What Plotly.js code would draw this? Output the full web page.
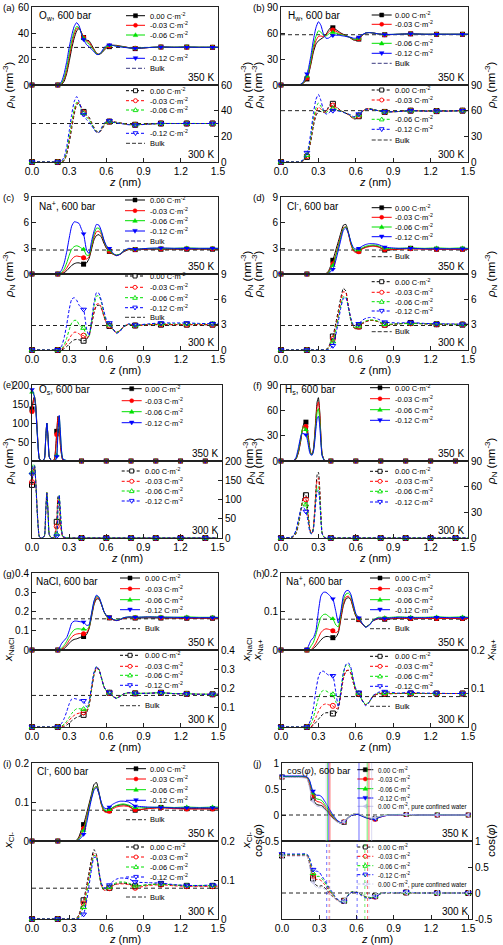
<!DOCTYPE html>
<html><head><meta charset="utf-8">
<script src="https://cdn.plot.ly/plotly-3.0.1.min.js"></script>
<style>html,body{margin:0;padding:0;background:#fff}#chart{width:503px;height:945px}</style>
</head><body><div id="chart"></div>
<script>
// ================= DATA =================
const chargeLabels = ['0.00','-0.03','-0.06','-0.12'];
const pureLabel = '0.00 C·m<sup>-2</sup>, pure confined water';
const xTickVals = [0,0.3,0.6,0.9,1.2,1.5];
const xTickText = ['0.0','0.3','0.6','0.9','1.2','1.5'];

// shared z grid (nm) for panels a,b,c,d,g,h,i
const zG = [0,0.1,0.14,0.16,0.18,0.208,0.22,0.24,0.26,0.28, 0.30,0.32,0.34,0.36,0.38,0.40,0.416,0.44,0.46,0.48, 0.50,0.52,0.54,0.56,0.58,0.60,0.624,0.65,0.68,0.71, 0.74,0.78,0.832,0.94,1.04,1.15,1.248,1.35,1.456,1.5];
const markZ_G = [0,0.208,0.416,0.624,0.832,1.04,1.248,1.456];

// (a) O_w
const aOw350_000 = [0,0,0,0,0,0,0,0.5,3,9, 18,28,36,41.5,43.5,40,36.5,34.5,34,31, 27.5,24.5,23.5,24.5,26.5,28.5,29.5,30.5,30.5,30, 29.5,28.8,28,28.8,29.2,29,29.2,29,29,29];
const aOw350_003 = [0,0,0,0,0,0,0,1,4.5,11, 21,31,39,43.5,44,40,36.5,34,33,30, 27,24.3,23.5,24.8,27,29,30,30.5,30.3,29.8, 29.3,28.7,28.2,28.8,29.2,29,29.1,29,29,29];
const aOw350_006 = [0,0,0,0,0,0,0.2,1.5,6,13.5, 24,34,41,45,44,39.5,36,33,31.5,29, 26.5,24,23.5,25,27.5,29.5,30.3,30.5,30,29.6, 29.2,28.6,28.3,28.9,29.2,29.1,29.2,29.1,29.1,29.1];
const aOw350_012 = [0,0,0,0,0,0,0.5,3,9,18, 29,38,45,48,45.5,39,35,31,29.5,27.5, 25.5,23.5,23.5,25.5,28.5,30.5,31,30.5,29.8,29.3, 29,28.5,28.2,28.8,29.2,29,29.1,29,29,29];
const aOw300_000 = [0,0,0,0,0,0,0,0,1,6, 15,26,37,44.5,46,42,39,36.5,35,31, 27,24,23,25,28,31,31.5,31.5,31,30.5, 30,29.3,29,29.5,30,30,30,30,30,30];
const aOw300_003 = [0,0,0,0,0,0,0,0.2,1.5,7.5, 17,28.5,39,45.5,46,41.5,38.5,36,34,30.5, 26.5,23.5,23,25.5,28.5,31,31.5,31.3,30.8,30.3, 29.8,29.2,29,29.6,30,30,30,30,30,30];
const aOw300_006 = [0,0,0,0,0,0,0,0.3,2,9, 19,31,41,46.5,45.5,40.5,38,35,33,30, 26,23.5,23.2,26,29,31.3,31.5,31,30.6,30.2, 29.8,29.2,29,29.6,30,30,30.1,30,30,30];
const aOw300_012 = [0,0,0,0,0,0,0.2,1,4,12, 24,37,47,51,47,40.5,37,33,31,28.5, 25.5,23,23,26.5,30,32,32,31,30.5,30, 29.6,29,28.8,29.5,30,30,30,30,30,30];
const aOwBulk = [28.9, 30];

// (b) H_w
const bHw350_000 = [0,0,0,0.5,2,7,12,24,38,47, 51,53,55,58,63,66.5,66,64,62,60, 58.5,57,56,54,52,51.5,53,57,60,60.5, 60,59,58,58.5,59,58.5,58.5,58.5,58.5,58.5];
const bHw350_003 = [0,0,0,0.6,2.5,8,13,26,41,51, 56,56.5,56,57.5,61,63.5,63.5,62,60.5,59, 58,56.5,55.5,54,52.5,52,53.5,57,60,60.5, 60,59,58,58.5,59,58.5,58.5,58.5,58.5,58.5];
const bHw350_006 = [0,0,0,0.8,3,10,15,29,45,56, 62.5,61,57.5,56.5,58.5,60.5,60.5,60,59,58, 57.5,56.5,55.5,54.5,53,52.5,54,57.5,60,60.5, 60,59,58.2,58.6,59,58.6,58.6,58.6,58.6,58.6];
const bHw350_012 = [0,0,0,1,4,13,19,34,52,66, 73,69,59,54,54,56,57,57.5,57.5,57, 56.5,56,55.5,55,54,54,55.5,58,60,60.5, 60,59,58.3,58.6,59,58.6,58.6,58.6,58.6,58.6];
const bHw300_000 = [0,0,0,0.3,1.5,6,11,25,42,54, 59,59,58,59,64,68,68,65,62.5,60, 58.5,57,55.5,53,50.5,50.5,53.5,58.5,62,62.5, 61.5,60,58.5,59,60,59.5,59.5,59.5,60,60];
const bHw300_003 = [0,0,0,0.4,2,7,12,27,45,58, 64,62,58.5,58.5,62.5,66,66,64,62,60, 58.5,57,55.5,53.5,51,51,54,58.5,62,62, 61,60,58.5,59,60,59.5,59.5,59.5,60,60];
const bHw300_006 = [0,0,0,0.5,2.5,8,14,30,50,63, 69,65,59,57.5,60,62.5,62.5,62,60.5,59.5, 58.5,57,56,54,52,52,55,58.5,61.5,62, 61,60,58.6,59,60,59.5,59.6,59.5,60,60];
const bHw300_012 = [0,0,0,0.8,3,11,17,35,57,73, 79,72,61,56,57,59.5,60,60,59.5,59, 58,57,56,55,53,53.5,56,59.5,61.5,61.5, 61,60,58.6,59,60,59.5,59.6,59.5,60,60];
const bHwBulk = [58, 60];

// (c) Na+
const cNa350_000 = [0,0,0,0,0,0,0,0.05,0.15,0.4, 0.7,1.0,1.2,1.3,1.3,1.2,1.15,1.3,1.8,2.9, 4.0,4.5,4.6,4.3,3.6,3.0,2.65,2.35,2.2,2.3, 2.6,2.85,2.85,2.9,2.9,2.9,2.9,2.9,2.9,2.9];
const cNa350_003 = [0,0,0,0,0,0,0.02,0.1,0.3,0.7, 1.2,1.7,2.0,2.1,2.05,2.0,1.9,1.75,2.0,3.1, 4.3,4.95,5.0,4.6,3.8,3.1,2.7,2.35,2.15,2.3, 2.65,2.9,2.85,2.95,2.95,2.95,2.95,2.95,2.95,2.95];
const cNa350_006 = [0,0,0,0,0,0,0.05,0.2,0.6,1.3, 2.2,2.9,3.2,3.3,3.2,3.0,2.9,2.2,2.2,3.3, 4.6,5.35,5.35,4.8,3.9,3.2,2.8,2.4,2.2,2.35, 2.7,2.95,2.9,3.0,3.0,3.0,3.05,3.0,3.0,3.0];
const cNa350_012 = [0,0,0,0,0,0.02,0.1,0.5,1.3,2.6, 4.2,5.6,6.1,6.05,5.9,5.2,4.7,2.8,2.4,3.8, 5.0,5.8,5.7,5.0,4.0,3.3,3.0,2.5,2.15,2.3, 2.7,3.0,2.9,3.0,3.05,3.0,3.0,3.0,3.0,3.0];
const cNa300_000 = [0,0,0,0,0,0,0,0.03,0.15,0.4, 0.7,1.0,1.2,1.25,1.2,1.1,1.1,1.2,1.8,3.0, 4.4,5.25,5.3,4.9,4.0,3.2,2.85,2.5,2.1,2.3, 2.75,3.0,2.9,3.0,3.0,3.0,3.0,3.0,3.0,3.0];
const cNa300_003 = [0,0,0,0,0,0,0.02,0.1,0.35,0.8, 1.3,1.8,2.1,2.1,1.9,1.75,1.7,1.4,1.7,3.0, 4.5,5.4,5.5,5.0,4.0,3.2,2.9,2.5,2.05,2.3, 2.8,3.05,2.9,3.0,3.05,3.0,3.0,3.0,3.0,3.0];
const cNa300_006 = [0,0,0,0,0,0,0.05,0.2,0.6,1.4, 2.4,3.2,3.5,3.5,3.0,2.7,2.6,1.7,1.6,3.3, 5.2,6.4,6.4,5.6,4.4,3.4,3.0,2.5,2.05,2.3, 2.8,3.05,2.9,3.05,3.1,3.1,3.1,3.1,3.1,3.1];
const cNa300_012 = [0,0,0,0,0,0.03,0.1,0.5,1.5,3.0, 4.8,6.0,6.2,5.9,5.3,5.0,4.8,2.5,1.7,3.5, 5.6,6.8,6.7,5.8,4.6,3.6,3.2,2.6,1.95,2.2, 2.8,3.1,2.95,3.1,3.2,3.2,3.2,3.15,3.1,3.1];
const cNaBulk = [2.8, 2.9];

// (d) Cl-
const dCl350_000 = [0,0,0,0,0,0,0,0,0,0, 0,0,0,0.05,0.3,1.0,1.6,2.8,3.8,4.8, 5.7,5.8,4.9,3.6,2.8,2.6,2.7,2.95,3.15,3.25, 3.3,3.2,2.8,2.9,3.0,2.95,2.9,2.9,2.9,2.9];
const dCl350_003 = [0,0,0,0,0,0,0,0,0,0, 0,0,0,0.03,0.2,0.75,1.2,2.3,3.4,4.5, 5.4,5.5,4.7,3.5,2.7,2.5,2.6,2.9,3.1,3.2, 3.25,3.15,2.85,2.9,2.95,2.9,2.9,2.9,2.9,2.9];
const dCl350_006 = [0,0,0,0,0,0,0,0,0,0, 0,0,0,0.02,0.15,0.6,1.0,2.1,3.2,4.3, 5.3,5.5,4.8,3.7,2.9,2.7,2.8,3.05,3.25,3.35, 3.4,3.3,3.0,3.0,3.05,3.0,3.05,3.0,3.05,3.0];
const dCl350_012 = [0,0,0,0,0,0,0,0,0,0, 0,0,0,0.01,0.08,0.3,0.55,1.6,2.8,4.0, 5.1,5.4,4.8,3.8,3.1,2.9,3.0,3.25,3.45,3.55, 3.55,3.45,3.15,3.0,3.0,2.95,2.95,2.95,2.95,2.95];
const dCl300_000 = [0,0,0,0,0,0,0,0,0,0, 0,0,0,0.05,0.3,1.0,1.6,3.2,4.7,6.2, 7.3,7.0,5.2,3.5,2.7,2.55,2.8,3.1,3.35,3.5, 3.5,3.35,3.0,3.1,3.2,3.1,3.05,3.0,3.0,3.0];
const dCl300_003 = [0,0,0,0,0,0,0,0,0,0, 0,0,0,0.03,0.2,0.8,1.3,2.8,4.3,5.8, 6.9,6.8,5.2,3.6,2.7,2.5,2.75,3.1,3.35,3.5, 3.5,3.35,2.95,3.1,3.15,3.1,3.05,3.05,3.05,3.05];
const dCl300_006 = [0,0,0,0,0,0,0,0,0,0, 0,0,0,0.02,0.15,0.6,1.0,2.4,3.9,5.3, 6.3,6.3,5.0,3.6,2.8,2.6,2.85,3.2,3.45,3.55, 3.55,3.4,3.05,3.1,3.15,3.1,3.1,3.05,3.05,3.05];
const dCl300_012 = [0,0,0,0,0,0,0,0,0,0, 0,0,0,0.01,0.05,0.25,0.5,1.8,3.4,5.0, 6.1,6.2,5.1,3.8,3.0,2.85,3.1,3.5,3.75,3.85, 3.85,3.65,3.3,3.2,3.25,3.15,3.1,3.1,3.05,3.05];
const dClBulk = [2.8, 2.9];

// (e) O_s (own grid)
const zE = [0,0.01,0.02,0.03,0.045,0.06,0.08,0.1,0.11,0.12, 0.13,0.14,0.16,0.18,0.19,0.2,0.21,0.22,0.23,0.25, 0.3,0.4,0.6,0.8,1.0,1.2,1.4,1.5];
const markZ_E = [0,0.2,0.4,0.6,0.8,1.0,1.2,1.4];
const eOs350_000 = [137,160,170,148,65,5,0,6,55,100, 60,10,0,4,30,78,118,100,40,2, 0,0,0,0,0,0,0,0];
const eOs350_003 = [130,155,166,145,62,5,0,6,55,100, 60,10,0,3,25,70,116,102,42,2, 0,0,0,0,0,0,0,0];
const eOs350_006 = [181,178,170,142,60,5,0,6,55,100, 60,10,0,0.5,3,15,80,118,70,5, 0,0,0,0,0,0,0,0];
const eOs350_012 = [188,180,168,140,58,5,0,6,55,100, 60,10,0,0.5,2,12,78,120,72,5, 0,0,0,0,0,0,0,0];
const eOs300_000 = [138,172,185,150,55,3,0,5,62,118, 65,8,0,3,20,42,108,100,40,2, 0,0,0,0,0,0,0,0];
const eOs300_003 = [145,175,186,150,55,3,0,5,62,118, 65,8,0,2,15,30,105,102,42,2, 0,0,0,0,0,0,0,0];
const eOs300_006 = [170,192,190,148,52,3,0,5,62,118, 65,8,0,0.5,2,10,80,112,65,4, 0,0,0,0,0,0,0,0];
const eOs300_012 = [165,188,188,146,52,3,0,5,62,117, 65,8,0,0.5,2,5,75,112,68,4, 0,0,0,0,0,0,0,0];

// (f) H_s (own grid)
const zF = [0,0.08,0.1,0.12,0.14,0.16,0.17,0.18,0.19,0.2, 0.21,0.22,0.23,0.24,0.25,0.26,0.27,0.28,0.29,0.3, 0.31,0.32,0.33,0.35,0.4,0.6,0.8,1.0,1.2,1.4,1.5];
const markZ_F = [0,0.2,0.4,0.6,0.8,1.0,1.2,1.4];
const fHs350_000 = [0,0,0.2,2,10,25,36,43,46,46, 40,28,16,9,8,14,30,52,70,75, 60,30,8,0.5,0,0,0,0,0,0,0];
const fHs350_003 = [0,0,0.3,2.5,11,27,36,41,42,41, 35,25,15,9,8,13,28,48,65,70, 57,29,8,0.5,0,0,0,0,0,0,0];
const fHs350_006 = [0,0,0.4,3,13,29,37,40,40,37, 31,22,13,8,7.5,12,25,43,58,62, 50,26,7,0.5,0,0,0,0,0,0,0];
const fHs350_012 = [0,0,0.5,4,16,30,33,32.5,31.5,31, 26,18,10,7,7,11,22,38,50,53, 43,22,6,0.4,0,0,0,0,0,0,0];
const fHs300_000 = [0,0.3,1.5,5,15,32,42,49,52,50, 40,25,12,6,6,13,32,57,74,77, 60,28,6,0.3,0,0,0,0,0,0,0];
const fHs300_003 = [0,0.4,2,6,17,33,41,46,47,45, 37,23,11,6,6,12,30,52,68,70, 55,26,6,0.3,0,0,0,0,0,0,0];
const fHs300_006 = [0,0.5,2.5,7,19,34,40,42,42,39, 32,20,10,5.5,5.5,11,27,46,59,60, 48,23,5,0.3,0,0,0,0,0,0,0];
const fHs300_012 = [0,0.7,3,9,22,34,36,36,34,31, 25,16,8,5,5,10,25,43,54,56, 45,21,5,0.3,0,0,0,0,0,0,0];

// (g) NaCl mole fraction
const gNaCl350_000 = [0,0,0,0,0,0,0,0,0.008,0.02, 0.035,0.048,0.055,0.058,0.063,0.068,0.07,0.08,0.11,0.17, 0.235,0.265,0.265,0.236,0.2,0.176,0.167,0.158,0.153,0.158, 0.165,0.168,0.166,0.167,0.166,0.166,0.165,0.165,0.165,0.165];
const gNaCl350_003 = [0,0,0,0,0,0,0,0.005,0.015,0.03, 0.05,0.067,0.078,0.083,0.085,0.085,0.085,0.09,0.115,0.18, 0.24,0.272,0.268,0.238,0.2,0.178,0.168,0.158,0.153,0.158, 0.165,0.17,0.168,0.17,0.168,0.167,0.166,0.166,0.166,0.166];
const gNaCl350_006 = [0,0,0,0,0,0,0,0.01,0.025,0.045, 0.07,0.09,0.105,0.11,0.11,0.108,0.108,0.105,0.12,0.185, 0.25,0.28,0.272,0.24,0.2,0.178,0.17,0.16,0.155,0.16, 0.168,0.172,0.17,0.172,0.172,0.17,0.172,0.17,0.17,0.17];
const gNaCl350_012 = [0,0,0,0,0,0,0.01,0.035,0.05,0.065, 0.1,0.14,0.15,0.15,0.148,0.146,0.145,0.128,0.13,0.19, 0.255,0.285,0.275,0.24,0.2,0.18,0.172,0.16,0.153,0.158, 0.168,0.172,0.17,0.172,0.17,0.17,0.168,0.168,0.168,0.168];
const gNaCl300_000 = [0,0,0,0,0,0,0,0,0,0.01, 0.02,0.032,0.042,0.05,0.055,0.06,0.063,0.075,0.11,0.19, 0.27,0.305,0.297,0.255,0.21,0.185,0.178,0.16,0.15,0.16, 0.172,0.178,0.175,0.175,0.178,0.173,0.172,0.17,0.17,0.17];
const gNaCl300_003 = [0,0,0,0,0,0,0,0,0.008,0.02, 0.035,0.05,0.06,0.068,0.072,0.075,0.076,0.082,0.115,0.195, 0.275,0.308,0.298,0.255,0.21,0.186,0.178,0.16,0.15,0.16, 0.172,0.178,0.175,0.175,0.178,0.173,0.172,0.17,0.17,0.17];
const gNaCl300_006 = [0,0,0,0,0,0,0,0.005,0.015,0.03, 0.05,0.07,0.085,0.095,0.095,0.094,0.093,0.09,0.12,0.2, 0.28,0.312,0.3,0.255,0.21,0.188,0.178,0.16,0.15,0.16, 0.172,0.178,0.175,0.176,0.178,0.174,0.173,0.171,0.171,0.171];
const gNaCl300_012 = [0,0,0,0,0,0,0.005,0.02,0.045,0.08, 0.12,0.145,0.148,0.145,0.14,0.138,0.136,0.105,0.13,0.21, 0.285,0.315,0.3,0.255,0.21,0.19,0.18,0.16,0.148,0.158, 0.172,0.178,0.175,0.175,0.178,0.173,0.172,0.17,0.17,0.17];
const gNaClBulk = [0.162, 0.164];

// (h) Na+ mole fraction
const hNa350_000 = [0,0,0,0,0,0,0,0,0.004,0.01, 0.018,0.026,0.032,0.035,0.035,0.033,0.032,0.033,0.045,0.08, 0.115,0.132,0.136,0.13,0.108,0.088,0.079,0.068,0.06,0.066, 0.076,0.081,0.08,0.082,0.082,0.082,0.082,0.082,0.082,0.082];
const hNa350_003 = [0,0,0,0,0,0,0,0,0.008,0.018, 0.032,0.045,0.052,0.055,0.054,0.052,0.05,0.045,0.05,0.085, 0.12,0.137,0.14,0.133,0.11,0.09,0.08,0.068,0.06,0.066, 0.076,0.082,0.081,0.083,0.082,0.082,0.082,0.082,0.082,0.082];
const hNa350_006 = [0,0,0,0,0,0,0,0.01,0.02,0.04, 0.065,0.085,0.092,0.093,0.088,0.083,0.081,0.065,0.06,0.095, 0.13,0.145,0.148,0.14,0.115,0.092,0.082,0.07,0.06,0.066, 0.078,0.085,0.084,0.086,0.085,0.085,0.086,0.085,0.086,0.085];
const hNa350_012 = [0,0,0,0,0,0.002,0.01,0.025,0.032,0.05, 0.1,0.14,0.15,0.15,0.145,0.138,0.133,0.1,0.07,0.1, 0.14,0.153,0.155,0.145,0.12,0.095,0.084,0.07,0.059,0.065, 0.077,0.083,0.082,0.085,0.084,0.084,0.085,0.084,0.084,0.084];
const hNa300_000 = [0,0,0,0,0,0,0,0,0.005,0.012, 0.02,0.028,0.034,0.037,0.037,0.036,0.035,0.035,0.048,0.085, 0.125,0.145,0.147,0.14,0.115,0.094,0.086,0.07,0.058,0.066, 0.08,0.086,0.086,0.087,0.087,0.087,0.087,0.087,0.087,0.087];
const hNa300_003 = [0,0,0,0,0,0,0,0,0.01,0.025, 0.04,0.052,0.058,0.06,0.058,0.056,0.055,0.048,0.05,0.085, 0.125,0.145,0.148,0.14,0.115,0.095,0.087,0.07,0.058,0.066, 0.08,0.087,0.087,0.087,0.088,0.087,0.087,0.087,0.087,0.087];
const hNa300_006 = [0,0,0,0,0,0,0,0.008,0.025,0.05, 0.075,0.09,0.095,0.094,0.09,0.087,0.085,0.065,0.055,0.095, 0.14,0.16,0.162,0.15,0.122,0.098,0.088,0.07,0.058,0.067, 0.082,0.088,0.088,0.087,0.088,0.087,0.087,0.087,0.087,0.087];
const hNa300_012 = [0,0,0,0,0,0,0.005,0.02,0.05,0.095, 0.13,0.144,0.145,0.14,0.135,0.134,0.133,0.09,0.052,0.09, 0.14,0.162,0.167,0.155,0.125,0.1,0.09,0.07,0.055,0.065, 0.082,0.09,0.092,0.088,0.09,0.088,0.088,0.087,0.087,0.087];
const hNaBulk = [0.08, 0.079];

// (i) Cl- mole fraction
const iCl350_000 = [0,0,0,0,0,0,0,0,0,0, 0,0,0,0.002,0.012,0.03,0.042,0.07,0.095,0.12, 0.145,0.15,0.125,0.095,0.078,0.075,0.078,0.085,0.09,0.092, 0.093,0.09,0.079,0.084,0.086,0.084,0.083,0.083,0.083,0.083];
const iCl350_003 = [0,0,0,0,0,0,0,0,0,0, 0,0,0,0.001,0.008,0.022,0.032,0.06,0.088,0.113, 0.135,0.14,0.12,0.092,0.076,0.073,0.076,0.082,0.087,0.089, 0.09,0.088,0.08,0.083,0.085,0.083,0.082,0.082,0.082,0.082];
const iCl350_006 = [0,0,0,0,0,0,0,0,0,0, 0,0,0,0.001,0.006,0.017,0.027,0.055,0.085,0.112, 0.135,0.14,0.122,0.095,0.08,0.077,0.08,0.086,0.091,0.094, 0.095,0.092,0.085,0.086,0.087,0.086,0.087,0.086,0.087,0.087];
const iCl350_012 = [0,0,0,0,0,0,0,0,0,0, 0,0,0,0,0.003,0.01,0.017,0.045,0.078,0.108, 0.13,0.137,0.122,0.098,0.085,0.083,0.087,0.094,0.099,0.102, 0.102,0.1,0.09,0.087,0.086,0.085,0.085,0.085,0.085,0.085];
const iCl300_000 = [0,0,0,0,0,0,0,0,0,0, 0,0,0,0.002,0.012,0.035,0.048,0.085,0.12,0.155, 0.178,0.165,0.12,0.085,0.074,0.075,0.08,0.086,0.09,0.092, 0.092,0.09,0.084,0.088,0.09,0.087,0.085,0.085,0.085,0.085];
const iCl300_003 = [0,0,0,0,0,0,0,0,0,0, 0,0,0,0.001,0.008,0.028,0.04,0.075,0.11,0.145, 0.168,0.162,0.12,0.086,0.074,0.074,0.079,0.085,0.089,0.09, 0.09,0.088,0.08,0.086,0.088,0.085,0.084,0.084,0.084,0.084];
const iCl300_006 = [0,0,0,0,0,0,0,0,0,0, 0,0,0,0.001,0.005,0.02,0.03,0.065,0.1,0.138, 0.163,0.16,0.12,0.088,0.076,0.076,0.082,0.088,0.093,0.095, 0.095,0.092,0.085,0.088,0.09,0.087,0.086,0.086,0.086,0.086];
const iCl300_012 = [0,0,0,0,0,0,0,0,0,0, 0,0,0,0,0.002,0.008,0.012,0.045,0.085,0.128, 0.158,0.158,0.122,0.092,0.08,0.08,0.087,0.096,0.102,0.105, 0.105,0.103,0.095,0.093,0.092,0.088,0.086,0.086,0.087,0.087];
const iClBulk = [0.079, 0.079];

// (j) cos(phi) (own grid)
const zJ = [0,0.05,0.1,0.15,0.2,0.22,0.24,0.25,0.26,0.28, 0.3,0.32,0.34,0.36,0.38,0.4,0.42,0.44,0.46,0.48, 0.5,0.52,0.55,0.58,0.61,0.64,0.67,0.7,0.72,0.75, 0.78,0.82,0.87,0.93,1.0,1.1,1.18,1.25,1.35,1.43, 1.5];
const markZ_J = [0,0.25,0.5,0.75,1.0,1.25,1.5];
const jCos350_000 = [0.73,0.73,0.73,0.73,0.71,0.58,0.38,0.32,0.26,0.2, 0.19,0.18,0.14,0.08,0.02,-0.03,-0.08,-0.12,-0.15,-0.16, -0.14,-0.09,-0.02,0.01,0.02,-0.01,-0.04,-0.07,-0.08,-0.07, -0.04,-0.01,0,0,0.01,0,0,0,0,0, 0];
const jCos350_003 = [0.73,0.73,0.73,0.73,0.72,0.62,0.45,0.38,0.32,0.26, 0.25,0.23,0.18,0.11,0.05,-0.01,-0.07,-0.11,-0.14,-0.15, -0.13,-0.08,-0.01,0.02,0.02,-0.01,-0.04,-0.07,-0.08,-0.08, -0.05,-0.02,0,0,0.01,0,0,0,0,0, 0];
const jCos350_006 = [0.74,0.74,0.74,0.74,0.73,0.66,0.49,0.42,0.36,0.31, 0.3,0.28,0.22,0.15,0.08,0.01,-0.05,-0.1,-0.14,-0.15, -0.13,-0.08,-0.01,0.02,0.02,-0.01,-0.04,-0.06,-0.07,-0.07, -0.04,-0.01,0,0.01,0.01,0,0,0.01,0,0, 0];
const jCos350_012 = [0.75,0.75,0.75,0.75,0.74,0.68,0.52,0.46,0.41,0.38, 0.38,0.35,0.28,0.2,0.12,0.04,-0.03,-0.09,-0.13,-0.15, -0.13,-0.08,-0.02,0.01,0.01,-0.02,-0.05,-0.07,-0.08,-0.08, -0.05,-0.02,0,0,0.01,0,0,0,0,0, 0];
const jCos350_pure = [0.72,0.72,0.72,0.72,0.7,0.55,0.33,0.27,0.22,0.17, 0.16,0.15,0.11,0.06,0,-0.05,-0.09,-0.13,-0.15,-0.16, -0.13,-0.08,-0.01,0.02,0.03,0,-0.03,-0.05,-0.06,-0.05, -0.03,-0.01,0,0,0.01,0,0,0,0,0, 0];
const jCos300_000 = [0.72,0.72,0.72,0.72,0.72,0.58,0.36,0.28,0.2,0.14, 0.13,0.14,0.11,0.06,0,-0.05,-0.09,-0.13,-0.16,-0.17, -0.15,-0.09,0,0.02,0.01,-0.03,-0.07,-0.09,-0.09,-0.06, -0.03,0,0.01,0,0.01,0,0,0,0,0, 0];
const jCos300_003 = [0.73,0.73,0.73,0.73,0.73,0.62,0.42,0.33,0.28,0.26, 0.26,0.23,0.17,0.11,0.04,-0.02,-0.07,-0.12,-0.15,-0.17, -0.15,-0.08,0.01,0.03,0.01,-0.03,-0.07,-0.1,-0.1,-0.07, -0.03,0,0.01,0,0.01,0,0,0,0,0, 0];
const jCos300_006 = [0.74,0.74,0.74,0.74,0.74,0.66,0.47,0.38,0.34,0.32, 0.32,0.28,0.22,0.15,0.07,0,-0.06,-0.11,-0.15,-0.17, -0.15,-0.08,0.01,0.03,0.01,-0.03,-0.07,-0.09,-0.09,-0.06, -0.02,0,0.01,0,0.01,0,0,0,0,0, 0];
const jCos300_012 = [0.75,0.75,0.75,0.75,0.75,0.68,0.52,0.45,0.42,0.42, 0.4,0.33,0.26,0.18,0.1,0.03,-0.04,-0.1,-0.15,-0.18, -0.16,-0.09,0,0.02,0,-0.05,-0.09,-0.11,-0.1,-0.07, -0.03,0,0.01,0,0.02,0,0,0,0,0, 0];
const jCos300_pure = [0.71,0.71,0.71,0.71,0.71,0.55,0.3,0.22,0.15,0.1, 0.1,0.1,0.08,0.03,-0.02,-0.06,-0.1,-0.14,-0.17,-0.18, -0.15,-0.08,0.01,0.03,0.02,-0.02,-0.05,-0.07,-0.07,-0.05, -0.02,0,0.01,0,0.01,0,0,0,0,0, 0];
const jCosBulk = [0, 0];
// vertical reference lines in (j): position and series index (0 black,1 red,2 green,3 blue,4 pure)
const jVline350 = [0.356,0.366,0.376,0.386,0.62,0.686,0.70,0.722];
const jVline350Series = [4,2,3,1,3,2,1,4];
const jVline300 = [0.36,0.38,0.386,0.605,0.667,0.689,0.70];
const jVline300Series = [3,1,4,3,2,1,4];

// ================= STYLE / LAYOUT =================
const PW = 503, PH = 945;
const px = x => x / PW, py = y => 1 - y / PH;
const FONT = 'Liberation Sans, Arial, Helvetica, sans-serif';
const colors = ['#000000','#ff0000','#00e000','#0000ff','#c2c2ea'];
const symbols = ['square','circle','triangle-up','triangle-down','triangle-left'];
const rowTop = [7,197,385,573,763], rowMid = [85,274,461,650,841], rowBot = [162,350,538,727,919];
const RHO = '<i>ρ</i><sub>N</sub> (nm<sup>-3</sup>)';

const panels = [
 {tag:'(a)', name:'O<sub>w</sub>, 600 bar', z:zG, mz:markZ_G, s350:[aOw350_000,aOw350_003,aOw350_006,aOw350_012], s300:[aOw300_000,aOw300_003,aOw300_006,aOw300_012], bulk:aOwBulk, bulkLeg:true, bulkLegColor:'#3a3a80', yr:[0,60], yt:[0,20,40,60], ytitle:RHO, nm:[36.5,16], xl:32, xr:218, xmax:1.5, leg:{x1:126,x2:145,tx:148,t:[15.7,25.3,35,58.3,68.3],b:[90.7,100.7,110,133.3,143.3]}},
 {tag:'(b)', name:'H<sub>w</sub>, 600 bar', z:zG, mz:markZ_G, s350:[bHw350_000,bHw350_003,bHw350_006,bHw350_012], s300:[bHw300_000,bHw300_003,bHw300_006,bHw300_012], bulk:bHwBulk, bulkLeg:true, bulkLegColor:'#3a3a80', yr:[0,90], yt:[0,30,60,90], ytitle:RHO, nm:[286,16], xl:281, xr:468, xmax:1.5, leg:{x1:371.7,x2:391.7,tx:393,t:[15,24.3,43.3,53.3,63.3],b:[90,100,119.3,129.3,140]}},
 {tag:'(c)', name:'Na<sup>+</sup>, 600 bar', z:zG, mz:markZ_G, s350:[cNa350_000,cNa350_003,cNa350_006,cNa350_012], s300:[cNa300_000,cNa300_003,cNa300_006,cNa300_012], bulk:cNaBulk, bulkLeg:true, bulkLegColor:'#3a3a80', yr:[0,9], yt:[0,3,6,9], ytitle:RHO, nm:[36.5,206], xl:32, xr:218, xmax:1.5, leg:{x1:125,x2:145,tx:148,t:[200,210.7,220.7,231,241],b:[276,287.3,297.7,307.7,317.3]}},
 {tag:'(d)', name:'Cl<sup>-</sup>, 600 bar', z:zG, mz:markZ_G, s350:[dCl350_000,dCl350_003,dCl350_006,dCl350_012], s300:[dCl300_000,dCl300_003,dCl300_006,dCl300_012], bulk:dClBulk, bulkLeg:true, bulkLegColor:'#333333', yr:[0,9], yt:[0,3,6,9], ytitle:RHO, nm:[285,206], xl:281, xr:468, xmax:1.5, leg:{x1:371.7,x2:391.7,tx:393,t:[207.7,217.3,227,236.7,256.7],b:[281.7,292.3,301.7,311,331.7]}},
 {tag:'(e)', tagFont:9, name:'O<sub>s</sub>, 600 bar', z:zE, mz:markZ_E, s350:[eOs350_000,eOs350_003,eOs350_006,eOs350_012], s300:[eOs300_000,eOs300_003,eOs300_006,eOs300_012], bulk:null, bulkLeg:false, yr:[0,200], yt:[0,50,100,150,200], ytitle:RHO, nm:[37,390], xl:32, xr:222, xmax:1.535, leg:{x1:121.7,x2:141.7,tx:143.3,t:[388.7,400.7,411.7,422.7],b:[471,481.3,491,501]}},
 {tag:'(f)', name:'H<sub>s</sub>, 600 bar', z:zF, mz:markZ_F, s350:[fHs350_000,fHs350_003,fHs350_006,fHs350_012], s300:[fHs300_000,fHs300_003,fHs300_006,fHs300_012], bulk:null, bulkLeg:false, yr:[0,90], yt:[0,30,60,90], ytitle:RHO, nm:[282.5,389.5], xl:281, xr:468, xmax:1.5, leg:{x1:370,x2:390,tx:392.7,t:[387.7,398.7,409.7,420.3],b:[471.3,481.3,491.3,502]}},
 {tag:'(g)', name:'NaCl, 600 bar', z:zG, mz:markZ_G, s350:[gNaCl350_000,gNaCl350_003,gNaCl350_006,gNaCl350_012], s300:[gNaCl300_000,gNaCl300_003,gNaCl300_006,gNaCl300_012], bulk:gNaClBulk, bulkLeg:true, bulkLegColor:'#333333', yr:[0,0.4], yt:[0,0.1,0.2,0.3,0.4], ytitle:'<i>x</i><sub>NaCl</sub>', nm:[33.5,581], xl:32, xr:218, xmax:1.5, leg:{x1:120,x2:140,tx:143.3,t:[578,588.7,599.7,609.7,628.7],b:[655.3,666.3,675.3,685.3,705.7]}},
 {tag:'(h)', name:'Na<sup>+</sup>, 600 bar', z:zG, mz:markZ_G, s350:[hNa350_000,hNa350_003,hNa350_006,hNa350_012], s300:[hNa300_000,hNa300_003,hNa300_006,hNa300_012], bulk:hNaBulk, bulkLeg:true, bulkLegColor:'#333333', yr:[0,0.2], yt:[0,0.1,0.2], ytitle:'<i>x</i><sub>Na+</sub>', nm:[283.5,581], xl:281, xr:468, xmax:1.5, leg:{x1:370,x2:390,tx:393,t:[578,588.7,599.7,609.7,628.7],b:[656.3,666.3,676.3,686.3,706.3]}},
 {tag:'(i)', name:'Cl<sup>-</sup>, 600 bar', z:zG, mz:markZ_G, s350:[iCl350_000,iCl350_003,iCl350_006,iCl350_012], s300:[iCl300_000,iCl300_003,iCl300_006,iCl300_012], bulk:iClBulk, bulkLeg:true, bulkLegColor:'#333333', yr:[0,0.2], yt:[0,0.1,0.2], ytitle:'<i>x</i><sub>Cl-</sub>', nm:[35,771], xl:32, xr:218, xmax:1.5, leg:{x1:126,x2:146,tx:148,t:[768.7,779,789.7,800.3,819.7],b:[847,857,867,877,897]}},
 {tag:'(j)', name:'cos(<i>φ</i>), 600 bar', nmFont:9.3, z:zJ, mz:markZ_J, s350:[jCos350_000,jCos350_003,jCos350_006,jCos350_012,jCos350_pure], s300:[jCos300_000,jCos300_003,jCos300_006,jCos300_012,jCos300_pure], bulk:jCosBulk, bulkLeg:false, yr:[-0.5,1], yt:[-0.5,0,0.5,1], ytt:['-0.5','0','0.5','1'], ytitle:'cos(<i>φ</i>)', nm:[285,771], xl:282, xr:472, xmax:1.53, legFont:6.3, leg:{x1:357.3,x2:373.3,tx:376,t:[769.7,779,788.7,798,806.3],b:[847,856.3,865.7,874.7,884]}}
];

const traces = [], shapes = [], annos = [];
const layout = {width:PW, height:PH, margin:{l:0,r:0,t:0,b:0}, paper_bgcolor:'#fff', plot_bgcolor:'rgba(0,0,0,0)', showlegend:false, font:{family:FONT, color:'#000'}};

function ann(x, y, text, opt){
  annos.push(Object.assign({xref:'paper', yref:'paper', x:px(x), y:py(y), text:text, showarrow:false, xanchor:'center', yanchor:'middle', font:{family:FONT, size:10, color:'#000'}}, opt||{}));
}
function markerShape(s, cx, cy, r, c, open){
  const base = {xref:'paper', yref:'paper', fillcolor: open ? '#ffffff' : c, line:{color:c, width: open ? 0.9 : 0.5}};
  if (s === 0) return Object.assign({type:'rect', x0:px(cx-r), x1:px(cx+r), y0:py(cy-r), y1:py(cy+r)}, base);
  if (s === 1) return Object.assign({type:'circle', x0:px(cx-r), x1:px(cx+r), y0:py(cy-r), y1:py(cy+r)}, base);
  const k = 1.15;
  let pts;
  if (s === 2) pts = [[cx, cy-r*k],[cx+r*k, cy+r*0.8],[cx-r*k, cy+r*0.8]];
  else if (s === 3) pts = [[cx, cy+r*k],[cx+r*k, cy-r*0.8],[cx-r*k, cy-r*0.8]];
  else pts = [[cx-r*k, cy],[cx+r*0.8, cy-r*k],[cx+r*0.8, cy+r*k]];
  return Object.assign({type:'path', path:'M' + pts.map(p => px(p[0]) + ',' + py(p[1])).join('L') + 'Z'}, base);
}

panels.forEach((P, i) => {
  const row = Math.floor(i/2);
  [0,1].forEach(h => {
    const k = 2*i + h + 1;
    const xa = 'x' + (k === 1 ? '' : k), ya = 'y' + (k === 1 ? '' : k);
    const xk = 'xaxis' + (k === 1 ? '' : k), yk = 'yaxis' + (k === 1 ? '' : k);
    const yd = h === 0 ? [py(rowMid[row]), py(rowTop[row])] : [py(rowBot[row]), py(rowMid[row])];
    layout[xk] = {domain:[px(P.xl), px(P.xr)], range:[0, P.xmax], anchor:ya, showline:true, mirror:true, linecolor:'#222', linewidth:1,
      ticks: h ? 'inside' : '', ticklen:4, tickcolor:'#222', tickvals:xTickVals, ticktext:xTickText, showticklabels: !!h,
      tickfont:{family:FONT, size:10.3, color:'#000'}, showgrid:false, zeroline:false, fixedrange:true};
    layout[yk] = {domain:yd, range:P.yr, anchor:xa, side: h ? 'right' : 'left', showline:true, mirror:true, linecolor:'#222', linewidth:1,
      ticks:'inside', ticklen:4, tickcolor:'#222', tickvals:P.yt, ticktext:P.ytt || P.yt.map(String),
      tickfont:{family:FONT, size:10, color:'#000'}, showgrid:false, zeroline:false, fixedrange:true};

    // bulk reference line (data value through axis scales)
    if (P.bulk) {
      traces.push({x:[P.z[0], P.z[P.z.length-1]], y:[P.bulk[h], P.bulk[h]], xaxis:xa, yaxis:ya, mode:'lines',
        line:{color:'#222', width:1, dash:'4px,3px'}, hoverinfo:'skip', showlegend:false});
    }
    const series = h ? P.s300 : P.s350;
    series.forEach((ys, s) => {
      const c = colors[s];
      traces.push({x:P.z, y:ys, xaxis:xa, yaxis:ya, mode:'lines+markers', cliponaxis:false,
        line:{color:c, width:1, dash: h ? '3px,2px' : 'solid', shape:'spline', smoothing:0.5},
        marker:{symbol: symbols[s] + (h ? '-open' : ''), size:5, color:c, line:{color:c, width: h ? 1 : 0},
                opacity: P.z.map(v => P.mz.includes(v) ? 1 : 0)},
        hoverinfo:'skip', showlegend:false});
    });

    // legend (drawn as shapes + text)
    const L = P.leg, yl = h ? L.b : L.t, cx = (L.x1 + L.x2)/2, fs = P.legFont || 7.5;
    series.forEach((ys, s) => {
      const c = colors[s], y = yl[s];
      shapes.push({type:'line', xref:'paper', yref:'paper', x0:px(L.x1), x1:px(L.x2), y0:py(y), y1:py(y), line:{color:c, width:1, dash: h ? '3px,2px' : 'solid'}});
      shapes.push(markerShape(s, cx, y, 2.0, c, !!h));
      const lbl = s < 4 ? chargeLabels[s] + ' C·m<sup>-2</sup>' : pureLabel;
      ann(L.tx, y, lbl, {xanchor:'left', font:{family:FONT, size:fs, color:'#000'}});
    });
    if (P.bulkLeg) {
      const y = yl[series.length];
      shapes.push({type:'line', xref:'paper', yref:'paper', x0:px(L.x1), x1:px(L.x2), y0:py(y), y1:py(y), line:{color: h ? '#333333' : P.bulkLegColor, width:1, dash:'4px,2px'}});
      ann(L.tx, y, 'Bulk', {xanchor:'left', font:{family:FONT, size:fs, color:'#000'}});
    }
    // temperature label
    ann(P.xr - 2.5, (h ? rowBot[row] : rowMid[row]) - 7.5, h ? '300 K' : '350 K', {xanchor:'right', font:{family:FONT, size:10, color:'#000'}});

    // vertical lines for (j)
    if (i === 9) {
      const vl = h ? jVline300 : jVline350, vs = h ? jVline300Series : jVline350Series;
      vl.forEach((v, n) => shapes.push({type:'line', xref:xa, yref:ya + ' domain', x0:v, x1:v, y0:0, y1:1,
        line:{color:colors[vs[n]], width:0.8, dash: h ? 'dot' : 'solid'}, opacity:0.7}));
    }
  });

  // panel tag + name
  const colLeft = (i % 2 === 0) ? 0 : 250;
  ann(colLeft + 0.5, rowTop[row], P.tag, {xanchor:'left', font:{family:FONT, size:P.tagFont || 9.6, color:'#000'}});
  ann(P.nm[0], P.nm[1], P.name, {xanchor:'left', font:{family:FONT, size:P.nmFont || 10, color:'#000'}});
  // y titles (left for 350 K, right for 300 K)
  const ltx = (i % 2 === 0) ? 9 : 258, rtx = (i % 2 === 0) ? (i === 4 ? 249 : 247) : 491;
  ann(ltx, rowMid[row], P.ytitle, {textangle:-90, font:{family:FONT, size:11.5, color:'#000'}});
  ann(rtx, rowMid[row], P.ytitle, {textangle:-90, font:{family:FONT, size:11.5, color:'#000'}});
  // x title
  ann((P.xl + P.xr)/2, rowBot[row] + 20, '<i>z</i> (nm)', {font:{family:FONT, size:11, color:'#000'}});
});

layout.shapes = shapes;
layout.annotations = annos;
Plotly.newPlot('chart', traces, layout, {staticPlot:true, displayModeBar:false});
</script>
</body></html>
